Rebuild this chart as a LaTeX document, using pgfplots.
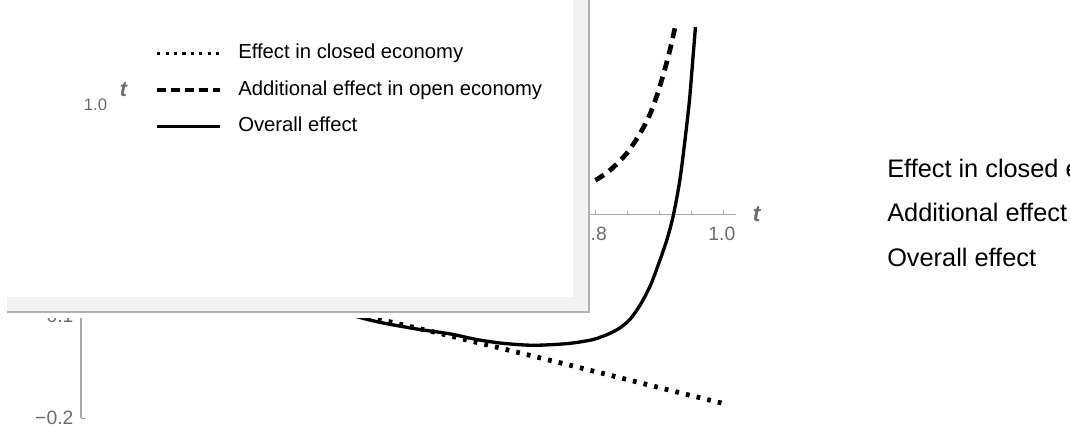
\documentclass[border=0pt]{standalone}
\usepackage{pgfplots}
\pgfplotsset{compat=1.18}
\usepackage{pgfplotstable}
\usepackage{fontspec}
\setmainfont{Liberation Sans}
\definecolor{axgray}{gray}{0.66}
\definecolor{lblgray}{gray}{0.42}
\definecolor{shadowfill}{gray}{0.95}
\definecolor{shadowline}{gray}{0.70}

\pgfplotstableread{
x y
0.000 -0.030
0.100 -0.048
0.200 -0.064
0.300 -0.079
0.400 -0.093
0.461 -0.1025
0.550 -0.1155
0.650 -0.1308
0.750 -0.1462
0.850 -0.1620
0.950 -0.1778
1.000 -0.1855
}\closedtab

\pgfplotstableread{
x y
0.000 0.000
0.200 0.002
0.400 0.006
0.550 0.011
0.650 0.016
0.720 0.0225
0.760 0.0265
0.795 0.0317
0.823 0.0431
0.849 0.0595
0.870 0.0791
0.886 0.0987
0.899 0.1216
0.909 0.1430
0.917 0.1620
0.9245 0.1830
0.928 0.1930
}\addltab

\pgfplotstableread{
x y
0.000 -0.030
0.100 -0.048
0.200 -0.064
0.300 -0.080
0.400 -0.0955
0.460 -0.1052
0.522 -0.1124
0.574 -0.1172
0.616 -0.1228
0.657 -0.1265
0.704 -0.1284
0.756 -0.1268
0.792 -0.1235
0.8078 -0.1206
0.8233 -0.1167
0.8389 -0.1113
0.8545 -0.1029
0.8700 -0.0892
0.8856 -0.0706
0.8965 -0.0529
0.9116 -0.0255
0.9219 -0.0010
0.932 0.0333
0.940 0.0725
0.947 0.1118
0.952 0.1500
0.9565 0.1850
}\overalltab

\begin{document}
\begin{tikzpicture}
\path[use as bounding box] (0pt,0pt) rectangle (802.5pt,-329.25pt);
\clip (0pt,0pt) rectangle (802.5pt,-329.25pt);
\begin{axis}[
  at={(60.75pt,-313.725pt)}, anchor=south west,
  x=481.875pt, y=765pt,
  xmin=0, xmax=1.02, ymin=-0.2, ymax=0.183,
  axis lines=middle,
  axis line style={axgray, line width=0.8pt, -},
  xtick={0.2,0.4,0.6,0.8,1.0},
  xticklabels={0.2,0.4,0.6,0.8,1.0},
  minor x tick num=3,
  ytick={-0.2,-0.1,0.1},
  yticklabels={−0.2,−0.1,0.1},
  minor y tick num=4,
  tick align=inside,
  major tick length=3.4pt, minor tick length=2.2pt,
  tick style={axgray, line width=0.75pt},
  tick label style={lblgray, font=\fontsize{14.5}{17}\selectfont, inner sep=0pt},
  xticklabel style={anchor=north, yshift=-9pt, xshift=-1.2pt},
  yticklabel style={anchor=east, xshift=-5.5pt},
  xlabel={\textbf{\textit{t}}},
  xlabel style={at={(axis cs:1.052,0)}, anchor=center, lblgray, font=\fontsize{17}{20}\selectfont, inner sep=0pt},
  clip=true,
]
\addplot[black, line width=3.6pt, dash pattern=on 2.8pt off 5.4pt] table {\closedtab};
\addplot[black, line width=3.5pt, dash pattern=on 7.5pt off 5pt, smooth] table {\addltab};
\addplot[black, line width=2.5pt, smooth] table {\overalltab};
\end{axis}

\begin{scope}[x=0.75pt, y=-0.75pt]
  \fill[white] (-30,-30) rectangle (590,318);
  \fill[shadowfill] (7,-30) rectangle (589,312);
  \draw[shadowline, line width=0.9pt] (589,-30) -- (589,312) -- (7,312);
  \fill[white] (-30,-30) rectangle (573,297);
  \node[lblgray, inner sep=0pt, font=\fontsize{12.5}{15}\selectfont] at (95.5,105) {1.0};
  \node[lblgray, inner sep=0pt, font=\fontsize{16}{19}\selectfont\bfseries\itshape] at (123.5,89.5) {t};
  \node[anchor=base west, inner sep=0pt, font=\fontsize{19}{23}\selectfont] at (887,177) {Effect in closed economy};
  \node[anchor=base west, inner sep=0pt, font=\fontsize{19}{23}\selectfont] at (887,221.5) {Additional effect in open economy};
  \node[anchor=base west, inner sep=0pt, font=\fontsize{19}{23}\selectfont] at (887,266) {Overall effect};
\end{scope}

\begin{axis}[
  at={(0pt,-329.25pt)}, anchor=south west,
  width=802.5pt, height=329.25pt, scale only axis,
  hide axis, xmin=0, xmax=1, ymin=0, ymax=1,
  legend style={draw=none, fill=none, at={(0.14486,0.8998)}, anchor=north west,
    font=\fontsize{15.2}{18}\selectfont, row sep=13.3pt, inner sep=0pt, outer sep=0pt,
    nodes={inner sep=0pt, text height=11pt, text depth=3.2pt},
    /tikz/every odd column/.append style={column sep=12pt}},
  legend image code/.code={\draw[#1] (0pt,0pt) -- (47.25pt,0pt);},
  legend cell align=left,
]
\addlegendimage{black, line width=2.8pt, dash pattern=on 2.4pt off 3.9pt}
\addlegendentry{Effect in closed economy}
\addlegendimage{black, line width=3.2pt, dash pattern=on 6.8pt off 3.6pt}
\addlegendentry{Additional effect in open economy}
\addlegendimage{black, line width=2.4pt}
\addlegendentry{Overall effect}
\end{axis}
\end{tikzpicture}
\end{document}
